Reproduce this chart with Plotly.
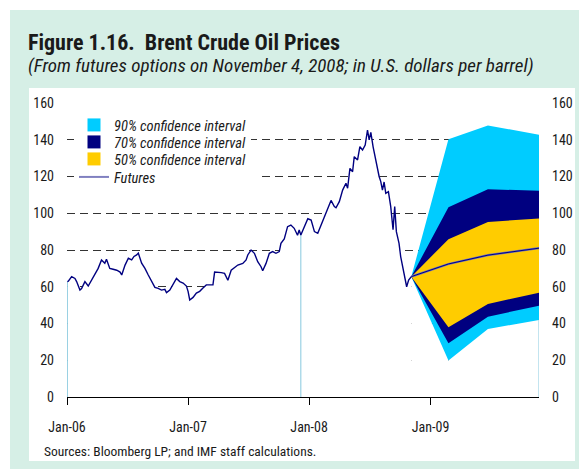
import plotly.graph_objects as go

# ---------------- data ----------------
price_dates = [
    "2006-01-02", "2006-01-05", "2006-01-15", "2006-01-25", "2006-01-30", "2006-02-09", "2006-02-14",
    "2006-02-24", "2006-03-06", "2006-03-16", "2006-03-26", "2006-04-05", "2006-04-15", "2006-04-20",
    "2006-04-25", "2006-04-30", "2006-05-10", "2006-05-20", "2006-05-31", "2006-06-10", "2006-06-15",
    "2006-06-25", "2006-07-05", "2006-07-15", "2006-07-22", "2006-07-30", "2006-08-04", "2006-08-14",
    "2006-08-24", "2006-09-03", "2006-09-13", "2006-09-23", "2006-10-03", "2006-10-13", "2006-10-23",
    "2006-10-28", "2006-11-07", "2006-11-17", "2006-11-27", "2006-12-07", "2006-12-17", "2006-12-27",
    "2007-01-01", "2007-01-06", "2007-01-16", "2007-01-26", "2007-02-05", "2007-02-15", "2007-02-25",
    "2007-03-07", "2007-03-17", "2007-03-22", "2007-04-01", "2007-04-11", "2007-04-21", "2007-05-01",
    "2007-05-11", "2007-05-21", "2007-05-31", "2007-06-15", "2007-06-25", "2007-06-30", "2007-07-10",
    "2007-07-20", "2007-07-30", "2007-08-09", "2007-08-14", "2007-08-24", "2007-09-03", "2007-09-13",
    "2007-09-23", "2007-10-03", "2007-10-08", "2007-10-18", "2007-10-28", "2007-11-07", "2007-11-17",
    "2007-11-27", "2007-12-02", "2007-12-07", "2007-12-18", "2007-12-28", "2008-01-07", "2008-01-17",
    "2008-01-27", "2008-02-06", "2008-02-16", "2008-02-26", "2008-03-07", "2008-03-17", "2008-03-22",
    "2008-04-01", "2008-04-11", "2008-04-21", "2008-04-26", "2008-05-03", "2008-05-11", "2008-05-16",
    "2008-05-26", "2008-06-02", "2008-06-10", "2008-06-18", "2008-06-25", "2008-06-30", "2008-07-05",
    "2008-07-12", "2008-07-18", "2008-07-25", "2008-07-30", "2008-08-04", "2008-08-09", "2008-08-14",
    "2008-08-19", "2008-08-27", "2008-09-03", "2008-09-10", "2008-09-15", "2008-09-20", "2008-09-28",
    "2008-10-03", "2008-10-09", "2008-10-16", "2008-10-21", "2008-10-27", "2008-11-04",
]
price_values = [
    62.8, 63.0, 65.5, 64.5, 62.8, 58.2, 59.0,
    62.8, 60.4, 63.5, 66.4, 70.0, 74.6, 73.6,
    72.8, 75.0, 70.0, 69.5, 69.0, 68.0, 66.4,
    71.8, 75.5, 74.6, 76.5, 77.3, 78.3, 72.8,
    70.0, 66.4, 62.8, 59.7, 59.1, 58.2, 58.6,
    56.8, 58.2, 61.0, 64.5, 62.8, 62.0, 60.4,
    57.5, 52.8, 54.2, 56.6, 57.5, 59.3, 61.0,
    61.0, 61.0, 68.0, 68.0, 67.7, 67.3, 63.5,
    69.0, 70.5, 71.8, 72.7, 74.6, 77.3, 80.0,
    78.2, 73.6, 70.9, 68.7, 72.7, 78.2, 79.1,
    78.2, 79.1, 83.6, 86.0, 92.7, 93.6, 91.8,
    88.0, 90.9, 88.2, 92.7, 97.0, 96.3, 90.0,
    89.1, 93.6, 98.1, 101.8, 107.0, 103.6, 103.0,
    106.3, 112.6, 116.3, 113.6, 124.4, 122.6, 130.8,
    129.0, 136.2, 134.4, 137.1, 145.3, 139.9, 144.0,
    136.0, 131.0, 123.5, 120.0, 117.2, 112.6, 117.0,
    110.9, 111.8, 103.6, 91.0, 103.6, 90.0, 83.6,
    76.4, 70.9, 63.6, 60.0, 63.6, 65.5,
]
seam_date = "2007-12-07"   # where the two shaded history blocks meet

fan_dates = ["2008-11-04", "2009-02-24", "2009-06-23", "2009-11-24"]
futures = [65.5, 72.4, 77.2, 81.0]
ci90_upper = [65.5, 140.3, 147.8, 142.7]
ci90_lower = [65.5, 19.8, 37.0, 41.9]
ci70_upper = [65.5, 103.3, 113.1, 112.2]
ci70_lower = [65.5, 29.2, 43.7, 49.7]
ci50_upper = [65.5, 85.9, 95.3, 97.1]
ci50_lower = [65.5, 38.0, 50.6, 56.8]

y_ticks = [0, 20, 40, 60, 80, 100, 120, 140, 160]
x_start = "2006-01-01"
x_tick_dates = ["2006-01-01", "2007-01-01", "2008-01-01", "2009-01-01"]
x_tick_labels = ["Jan-06", "Jan-07", "Jan-08", "Jan-09"]

legend_names = ["90% confidence interval", "70% confidence interval", "50% confidence interval", "Futures"]

TITLE = "Figure 1.16.  Brent Crude Oil Prices"
SUBTITLE = "(From futures options on November 4, 2008; in U.S. dollars per barrel)"
SOURCE = "Sources: Bloomberg LP; and IMF staff calculations."

# ---------------- styles ----------------
FONT = "Roboto Condensed"
MINT = "#d6efe6"
NAVY = "#000080"
CYAN = "#00ccff"
GOLD = "#ffcc00"
FUT_LEG = "#8080c0"
EDGE = "#86c8de"
TXT = "#1a1a1a"

OFF = 8                      # page offset of the figure inside the browser window
W, H = 587, 469
L, R, T, B = 67 - OFF, 56, 103 - OFF, 80
pw, ph = W - L - R, H - T - B

def px(x):                   # screen x -> paper
    return (x - OFF - L) / pw

def py(y):                   # screen y -> paper
    return (H - B - (y - OFF)) / ph

fig = go.Figure()

# white areas beneath the series (hide grid lines below the data)
fig.add_trace(go.Scatter(x=price_dates, y=price_values, fill="tozeroy", fillcolor="white",
                         mode="none", showlegend=False, hoverinfo="skip"))
fig.add_trace(go.Scatter(x=fan_dates, y=ci90_lower, fill="tozeroy", fillcolor="white",
                         mode="none", showlegend=False, hoverinfo="skip"))

def band(upper, lower, color):
    return go.Scatter(x=fan_dates + fan_dates[::-1], y=upper + lower[::-1], fill="toself",
                      fillcolor=color, mode="none", showlegend=False, hoverinfo="skip")

fig.add_trace(band(ci90_upper, ci90_lower, CYAN))
fig.add_trace(band(ci70_upper, ci70_lower, NAVY))
fig.add_trace(band(ci50_upper, ci50_lower, GOLD))

# thin light-blue edges of the shaded blocks
seam_i = price_dates.index(seam_date)
for xd, yv in [(price_dates[0], price_values[0]), (price_dates[seam_i], price_values[seam_i]),
               (fan_dates[-1], ci90_lower[-1])]:
    fig.add_trace(go.Scatter(x=[xd, xd], y=[0, yv], mode="lines", line=dict(color=EDGE, width=1),
                             showlegend=False, hoverinfo="skip"))

fig.add_trace(go.Scatter(x=price_dates, y=price_values, mode="lines",
                         line=dict(color=NAVY, width=1.4), showlegend=False))
fig.add_trace(go.Scatter(x=fan_dates, y=futures, mode="lines",
                         line=dict(color="#7070b8", width=2.2), showlegend=False, hoverinfo="skip"))
fig.add_trace(go.Scatter(x=fan_dates, y=futures, mode="lines",
                         line=dict(color=NAVY, width=1), showlegend=False))

# legend entries: one small legend per row so the rows sit close together.
# rows that cross a grid line get a white backing and are drawn first.
leg_colors = [CYAN, NAVY, GOLD, FUT_LEG]
leg_centers = [125, 142, 159, 177]
row_legend = {1: "legend", 3: "legend2", 0: "legend3", 2: "legend4"}
row_bg = {1: "white", 3: "white", 0: "rgba(0,0,0,0)", 2: "rgba(0,0,0,0)"}
row_pad = {0: "", 1: "", 2: "", 3: "\u00a0" * 30}   # widen the Futures backing
for i in [1, 3, 0, 2]:
    if i < 3:
        fig.add_trace(go.Scatter(x=[None], y=[None], mode="markers", name=legend_names[i] + row_pad[i],
                                 legend=row_legend[i],
                                 marker=dict(symbol="square", size=13, color=leg_colors[i])))
    else:
        fig.add_trace(go.Scatter(x=[None], y=[None], mode="lines", name=legend_names[i] + row_pad[i],
                                 legend=row_legend[i], line=dict(color=leg_colors[i], width=2)))

# invisible trace for the right axis
fig.add_trace(go.Scatter(x=[price_dates[0]], y=[price_values[0]], yaxis="y2", mode="markers",
                         marker=dict(opacity=0), showlegend=False, hoverinfo="skip"))

shapes = [
    dict(type="rect", xref="paper", yref="paper", x0=px(10), x1=px(600), y0=py(480), y1=py(10),
         fillcolor=MINT, line=dict(width=0), layer="below"),
    dict(type="rect", xref="paper", yref="paper", x0=px(29), x1=px(575), y0=py(461), y1=py(88),
         fillcolor="white", line=dict(width=0), layer="below"),
]

annotations = [
    dict(text=f"<b>{TITLE}</b>", x=px(26), y=py(42), xref="paper", yref="paper", xanchor="left",
         yanchor="middle", showarrow=False, font=dict(family=FONT, size=22, color=TXT)),
    dict(text=f"<i>{SUBTITLE}</i>", x=px(26), y=py(65), xref="paper", yref="paper", xanchor="left",
         yanchor="middle", showarrow=False, font=dict(family=FONT, size=19, color=TXT)),
    dict(text=SOURCE, x=px(42), y=py(451), xref="paper", yref="paper", xanchor="left",
         yanchor="middle", showarrow=False, font=dict(family=FONT, size=13.5, color=TXT)),
]

legends = {}
for i in range(4):
    legends[row_legend[i]] = dict(x=px(74), y=py(leg_centers[i]), xanchor="left", yanchor="middle",
                                  bgcolor=row_bg[i],
                                  font=dict(family=FONT, size=14.5, color=TXT, style="italic"),
                                  itemwidth=30, borderwidth=0)

tickfont = dict(family=FONT, size=14, color=TXT)
fig.update_layout(
    width=W, height=H,
    margin=dict(l=L, r=R, t=T, b=B),
    paper_bgcolor="white", plot_bgcolor="rgba(0,0,0,0)",
    shapes=shapes, annotations=annotations,
    font=dict(family=FONT, size=14, color=TXT),
    showlegend=True,
    xaxis=dict(type="date", range=[x_start, fan_dates[-1]],
               tickvals=x_tick_dates, ticktext=x_tick_labels, ticks="outside", ticklen=7,
               tickcolor="black", showline=True, linecolor="black", linewidth=1,
               showgrid=False, zeroline=False, ticklabelstandoff=10, tickfont=tickfont),
    yaxis=dict(range=[0, 160], tickvals=y_ticks, showgrid=True, gridcolor="#333333",
               gridwidth=1, griddash="8px,5px", zeroline=False, showline=False, ticks="",
               ticklabelstandoff=12, tickfont=tickfont),
    yaxis2=dict(range=[0, 160], tickvals=y_ticks, overlaying="y", side="right", showgrid=False,
                zeroline=False, showline=False, ticks="", ticklabelstandoff=12, tickfont=tickfont),
    **legends,
)

fig.write_html("out.html")
